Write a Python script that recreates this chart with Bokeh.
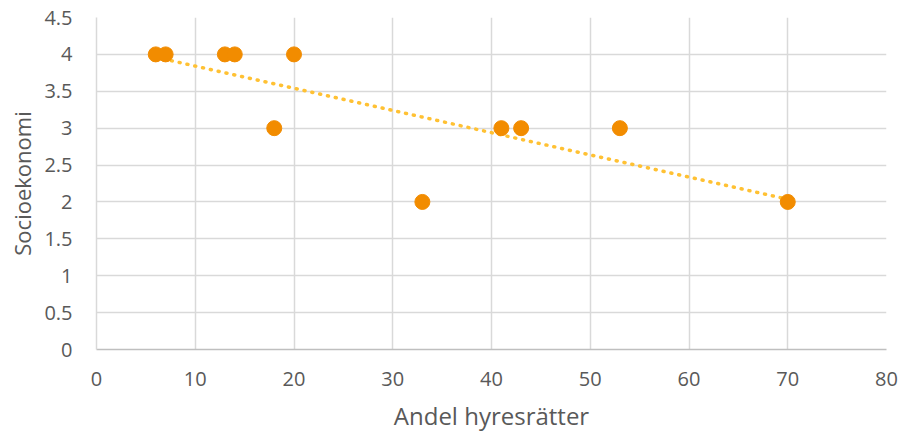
import numpy as np
from bokeh.plotting import figure
from bokeh.models import ColumnDataSource, FixedTicker, Range1d
from bokeh.embed import file_html
from bokeh.resources import INLINE

# Data
andel_hyresratter = [6, 7, 13, 14, 20, 18, 33, 41, 43, 53, 70]
socioekonomi = [4, 4, 4, 4, 4, 3, 2, 3, 3, 3, 2]
x_ticks = [0, 10, 20, 30, 40, 50, 60, 70, 80]
y_ticks = [0, 0.5, 1, 1.5, 2, 2.5, 3, 3.5, 4, 4.5]
y_tick_labels = ["0", "0.5", "1", "1.5", "2", "2.5", "3", "3.5", "4", "4.5"]

# Linear trend line (least squares) over the data span
slope, intercept = np.polyfit(andel_hyresratter, socioekonomi, 1)
trend_x = [min(andel_hyresratter), max(andel_hyresratter)]
trend_y = [slope * v + intercept for v in trend_x]

p = figure(width=901, height=434, output_backend="svg", toolbar_location=None,
           x_range=Range1d(0, 80), y_range=Range1d(0, 4.5),
           min_border_left=96, min_border_right=15, min_border_top=17, min_border_bottom=84)

p.outline_line_color = None
p.background_fill_color = "white"
p.border_fill_color = "white"

FONT = "Open Sans"
TICK_COLOR = "#595959"

p.xaxis.ticker = FixedTicker(ticks=x_ticks)
p.yaxis.ticker = FixedTicker(ticks=y_ticks)
p.yaxis.major_label_overrides = {t: l for t, l in zip(y_ticks, y_tick_labels)}

for ax in (p.xaxis, p.yaxis):
    ax.major_tick_line_color = None
    ax.minor_tick_line_color = None
    ax.major_label_text_font = FONT
    ax.major_label_text_font_size = "20px"
    ax.major_label_text_color = TICK_COLOR
    ax.axis_label_text_font = FONT
    ax.axis_label_text_font_style = "normal"
    ax.axis_label_text_color = TICK_COLOR

p.xaxis.axis_label_text_font_size = "24px"
p.yaxis.axis_label_text_font_size = "22px"

p.xaxis.axis_line_color = "#BFBFBF"
p.xaxis.axis_line_width = 1.5
p.yaxis.axis_line_color = "#D9D9D9"
p.yaxis.axis_line_width = 1.5
p.xaxis.major_label_standoff = 16
p.yaxis.major_label_standoff = 18
p.xaxis.axis_label = "Andel hyresrätter"
p.yaxis.axis_label = "Socioekonomi"
p.xaxis.axis_label_standoff = 10
p.yaxis.axis_label_standoff = 4

p.xgrid.grid_line_color = "#D9D9D9"
p.ygrid.grid_line_color = "#D9D9D9"
p.xgrid.grid_line_width = 1.5
p.ygrid.grid_line_width = 1.5

p.line(trend_x, trend_y, line_color="#FFC133", line_width=3.5, line_dash="1 7",
       line_cap="round")

src = ColumnDataSource(dict(x=andel_hyresratter, y=socioekonomi))
p.scatter("x", "y", source=src, size=15, fill_color="#F28C00", line_color="#F28C00")

open("out.html", "w").write(file_html(p, INLINE))
